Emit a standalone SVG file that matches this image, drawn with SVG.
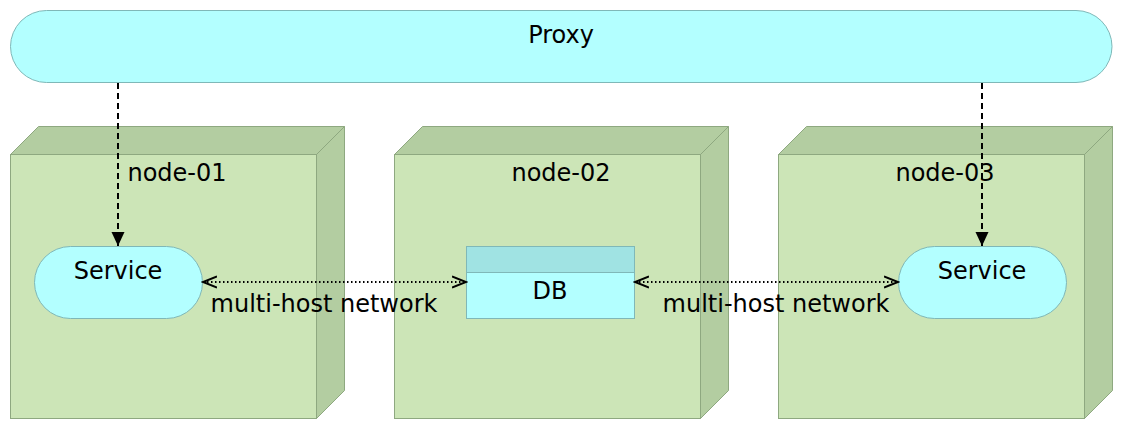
<svg xmlns="http://www.w3.org/2000/svg" width="1124" height="430" viewBox="0 0 1124 430">
<defs>
<style>
text{font-family:"DejaVu Sans","Liberation Sans",sans-serif;font-size:24px;fill:#000;text-anchor:middle}
.front{fill:#cce5b7;stroke:#8ea880;stroke-width:1}
.side{fill:#b3cda1;stroke:#8ea880;stroke-width:1}
.cyan{fill:#b3ffff;stroke:#7fb8b8;stroke-width:1}
.hdr{fill:#a0e3e3;stroke:#7fb8b8;stroke-width:1}
.dash{fill:none;stroke:#000;stroke-width:2;stroke-dasharray:6 4}
.dot{fill:none;stroke:#000;stroke-width:2;stroke-dasharray:1.5 2.5}
</style>
<marker id="solid" markerWidth="16" markerHeight="16" refX="14" refY="8" orient="auto" markerUnits="userSpaceOnUse">
<path d="M0,1.5 L14,8 L0,14.5 Z" fill="#000"/>
</marker>
<marker id="openEnd" markerWidth="16" markerHeight="14" refX="14" refY="7" orient="auto" markerUnits="userSpaceOnUse">
<path d="M0,1.5 L14,7 L0,12.5" fill="none" stroke="#000" stroke-width="2"/>
</marker>
<marker id="openStart" markerWidth="16" markerHeight="14" refX="2" refY="7" orient="auto" markerUnits="userSpaceOnUse">
<path d="M16,1.5 L2,7 L16,12.5" fill="none" stroke="#000" stroke-width="2"/>
</marker>
</defs>
<rect width="1124" height="430" fill="#fff"/>
<g id="proxy">
<rect class="cyan" x="10.5" y="10.5" width="1101.5" height="72" rx="36" ry="36"/>
<text x="561" y="43">Proxy</text>
</g>
<g id="node-01">
<path class="side" d="M10.5,154.5 L38.5,126.5 L344.5,126.5 L316.5,154.5 Z"/>
<path class="side" d="M316.5,154.5 L344.5,126.5 L344.5,390.5 L316.5,418.5 Z"/>
<rect class="front" x="10.5" y="154.5" width="306" height="264"/>
<text x="177" y="181">node-01</text>
</g>
<g id="node-02">
<path class="side" d="M394.5,154.5 L422.5,126.5 L728.5,126.5 L700.5,154.5 Z"/>
<path class="side" d="M700.5,154.5 L728.5,126.5 L728.5,390.5 L700.5,418.5 Z"/>
<rect class="front" x="394.5" y="154.5" width="306" height="264"/>
<text x="561" y="181">node-02</text>
</g>
<g id="node-03">
<path class="side" d="M778.5,154.5 L806.5,126.5 L1112.5,126.5 L1084.5,154.5 Z"/>
<path class="side" d="M1084.5,154.5 L1112.5,126.5 L1112.5,390.5 L1084.5,418.5 Z"/>
<rect class="front" x="778.5" y="154.5" width="306" height="264"/>
<text x="945" y="181">node-03</text>
</g>
<g id="service-01">
<rect class="cyan" x="34.5" y="246.5" width="168" height="72" rx="36" ry="36"/>
<text x="118" y="279">Service</text>
</g>
<g id="db">
<rect class="cyan" x="466.5" y="246.5" width="168" height="72"/>
<rect class="hdr" x="466.5" y="246.5" width="168" height="26"/>
<text x="550" y="299">DB</text>
</g>
<g id="service-03">
<rect class="cyan" x="898.5" y="246.5" width="168" height="72" rx="36" ry="36"/>
<text x="982" y="279">Service</text>
</g>
<g id="connectors">
<line class="dash" x1="118" y1="83" x2="118" y2="246" marker-end="url(#solid)"/>
<line class="dash" x1="982" y1="83" x2="982" y2="246" marker-end="url(#solid)"/>
<line class="dot" x1="203" y1="282" x2="466" y2="282" marker-start="url(#openStart)" marker-end="url(#openEnd)"/>
<line class="dot" x1="635" y1="282" x2="898" y2="282" marker-start="url(#openStart)" marker-end="url(#openEnd)"/>
<text x="324" y="312">multi-host network</text>
<text x="776" y="312">multi-host network</text>
</g>
</svg>
